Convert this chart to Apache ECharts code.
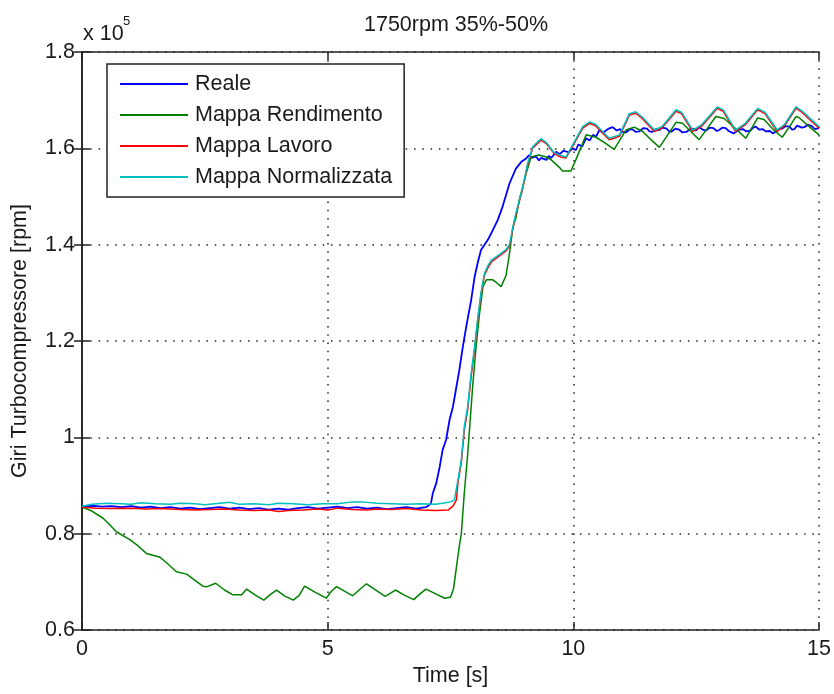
<!DOCTYPE html>
<html>
<head>
<meta charset="utf-8">
<script src="https://cdn.jsdelivr.net/npm/echarts@6/dist/echarts.min.js"></script>
<style>
  html, body { margin: 0; padding: 0; background: #fff; }
  #chart { width: 834px; height: 694px; }
</style>
</head>
<body>
<div id="chart"></div>
<script>
// Turbocharger speed (x 10^5 rpm) against time, 1750 rpm load step 35%-50%
const seriesNames = ['Reale', 'Mappa Rendimento', 'Mappa Lavoro', 'Mappa Normalizzata'];
const seriesColors = ['#0000ff', '#008000', '#ff0000', '#00bfbf'];

const xTicks = [0, 5, 10, 15];
const yTickLabels = ['0.6', '0.8', '1', '1.2', '1.4', '1.6', '1.8'];

// [time s, speed x 10^5 rpm]
const reale = [
  [0,0.857],[0.2,0.858],[0.4,0.856],[0.6,0.857],[0.8,0.855],[1.0,0.857],[1.2,0.854],[1.4,0.856],
  [1.6,0.853],[1.8,0.855],[2.0,0.852],[2.2,0.854],[2.4,0.851],[2.6,0.853],[2.8,0.855],[3.0,0.852],
  [3.2,0.854],[3.4,0.851],[3.6,0.853],[3.8,0.850],[4.0,0.852],[4.2,0.850],[4.4,0.853],[4.6,0.855],
  [4.8,0.852],[5.0,0.854],[5.2,0.856],[5.4,0.853],[5.6,0.855],[5.8,0.852],[6.0,0.854],[6.2,0.851],
  [6.4,0.853],[6.6,0.855],[6.8,0.852],[7.0,0.855],[7.1,0.862],[7.14,0.884],[7.21,0.905],[7.28,0.939],
  [7.34,0.974],[7.41,0.995],[7.48,1.036],[7.55,1.064],[7.62,1.105],[7.68,1.14],[7.75,1.188],[7.82,1.23],
  [7.92,1.285],[7.99,1.333],[8.05,1.361],[8.12,1.389],[8.26,1.41],[8.36,1.43],[8.46,1.451],[8.56,1.479],
  [8.70,1.527],[8.83,1.558],[8.94,1.572],[9.04,1.579],[9.10,1.586],[9.14,1.580],[9.24,1.583],[9.30,1.575],
  [9.34,1.580],[9.45,1.576],[9.50,1.584],[9.55,1.580],[9.65,1.593],[9.72,1.588],[9.80,1.595],[9.90,1.592],
  [9.99,1.600],[10.05,1.596],[10.10,1.608],[10.18,1.604],[10.26,1.621],[10.33,1.616],[10.40,1.628],
  [10.46,1.624],[10.53,1.638],[10.60,1.632],[10.65,1.636],[10.72,1.641],[10.80,1.644],[10.88,1.637],
  [10.95,1.640],[11.0,1.634],[11.07,1.633],[11.14,1.639],[11.2,1.640],[11.27,1.634],[11.34,1.635],
  [11.42,1.642],[11.5,1.641],[11.55,1.635],[11.6,1.634],[11.68,1.640],[11.75,1.638],[11.82,1.643],
  [11.9,1.641],[11.95,1.635],[12.0,1.635],[12.08,1.641],[12.15,1.639],[12.22,1.633],[12.3,1.634],
  [12.38,1.640],[12.45,1.641],[12.5,1.637],[12.56,1.644],[12.63,1.639],[12.7,1.637],[12.78,1.643],
  [12.85,1.642],[12.92,1.636],[12.97,1.638],[13.03,1.643],[13.1,1.642],[13.16,1.636],[13.2,1.636],
  [13.26,1.631],[13.3,1.633],[13.38,1.639],[13.45,1.640],[13.52,1.635],[13.6,1.637],[13.66,1.643],
  [13.71,1.645],[13.78,1.639],[13.85,1.640],[13.92,1.635],[14.0,1.636],[14.06,1.631],[14.12,1.635],
  [14.19,1.641],[14.25,1.641],[14.32,1.646],[14.4,1.645],[14.45,1.639],[14.5,1.640],[14.55,1.647],
  [14.59,1.648],[14.65,1.643],[14.7,1.644],[14.78,1.649],[14.85,1.646],[14.92,1.640],[15,1.642]
];

const rendimento = [
  [0,0.855],[0.2,0.847],[0.43,0.832],[0.55,0.820],[0.7,0.804],[0.98,0.787],[1.15,0.774],[1.31,0.759],
  [1.59,0.751],[1.75,0.737],[1.92,0.721],[2.13,0.716],[2.3,0.703],[2.46,0.691],[2.55,0.690],[2.72,0.697],
  [2.9,0.683],[3.07,0.673],[3.25,0.673],[3.35,0.685],[3.52,0.673],[3.70,0.662],[3.85,0.675],[3.96,0.683],
  [4.12,0.671],[4.30,0.662],[4.42,0.672],[4.53,0.691],[4.75,0.678],[4.97,0.666],[5.07,0.680],[5.18,0.690],
  [5.35,0.680],[5.51,0.671],[5.65,0.684],[5.79,0.696],[5.98,0.683],[6.17,0.670],[6.38,0.683],[6.55,0.673],
  [6.75,0.663],[6.88,0.675],[7.0,0.685],[7.2,0.675],[7.38,0.666],[7.50,0.668],[7.56,0.685],[7.62,0.730],
  [7.68,0.775],[7.72,0.800],[7.78,0.884],[7.85,0.966],[7.89,1.021],[7.95,1.105],[8.02,1.188],[8.09,1.257],
  [8.16,1.313],[8.23,1.327],[8.36,1.327],[8.45,1.320],[8.53,1.313],[8.63,1.336],[8.70,1.382],[8.77,1.437],
  [8.83,1.455],[8.90,1.493],[9.04,1.548],[9.14,1.582],[9.30,1.586],[9.45,1.582],[9.55,1.576],[9.72,1.560],
  [9.78,1.553],[9.95,1.553],[10.05,1.576],[10.26,1.628],[10.46,1.623],[10.65,1.611],[10.83,1.598],
  [11.07,1.638],[11.24,1.644],[11.41,1.635],[11.58,1.618],[11.75,1.602],[11.92,1.628],[12.09,1.654],
  [12.22,1.652],[12.40,1.634],[12.56,1.618],[12.73,1.642],[12.90,1.666],[13.07,1.662],[13.30,1.641],
  [13.51,1.621],[13.63,1.642],[13.75,1.663],[13.88,1.660],[14.05,1.641],[14.25,1.623],[14.40,1.645],
  [14.53,1.666],[14.59,1.664],[14.80,1.645],[15,1.628]
];

const lavoro = [
  [0,0.855],[0.3,0.853],[0.6,0.852],[1.0,0.853],[1.3,0.851],[1.6,0.852],[2.0,0.850],[2.3,0.849],
  [2.6,0.850],[2.9,0.851],[3.2,0.849],[3.5,0.848],[3.8,0.849],[4.0,0.846],[4.2,0.848],[4.5,0.849],
  [4.8,0.851],[5.0,0.849],[5.2,0.853],[5.5,0.850],[5.8,0.849],[6.0,0.851],[6.3,0.850],[6.6,0.852],
  [6.9,0.849],[7.2,0.848],[7.45,0.849],[7.55,0.857],[7.62,0.870],[7.65,0.905],[7.72,0.948],[7.78,1.015],
  [7.85,1.058],[7.92,1.127],[7.99,1.183],[8.05,1.240],[8.12,1.296],[8.19,1.336],[8.26,1.352],[8.33,1.364],
  [8.50,1.377],[8.63,1.387],[8.70,1.397],[8.77,1.434],[8.83,1.462],[8.97,1.517],[9.07,1.566],[9.17,1.600],
  [9.34,1.617],[9.45,1.610],[9.60,1.590],[9.72,1.583],[9.85,1.580],[10.0,1.607],[10.19,1.642],[10.33,1.652],
  [10.45,1.647],[10.73,1.618],[10.94,1.625],[11.14,1.669],[11.27,1.673],[11.40,1.662],[11.65,1.635],
  [11.80,1.642],[12.09,1.677],[12.20,1.672],[12.43,1.635],[12.60,1.645],[12.93,1.683],[13.05,1.677],
  [13.30,1.635],[13.50,1.649],[13.75,1.680],[13.90,1.672],[14.15,1.635],[14.30,1.647],[14.53,1.683],
  [14.65,1.675],[15,1.642]
];

const normalizzata = [
  [0,0.857],[0.2,0.861],[0.5,0.863],[0.8,0.862],[1.0,0.861],[1.2,0.864],[1.5,0.862],[1.8,0.861],
  [2.0,0.863],[2.3,0.862],[2.5,0.860],[2.8,0.863],[3.0,0.865],[3.2,0.861],[3.5,0.862],[3.8,0.860],
  [4.0,0.863],[4.3,0.862],[4.6,0.860],[4.9,0.862],[5.2,0.862],[5.5,0.866],[5.7,0.866],[6.0,0.863],
  [6.3,0.862],[6.6,0.861],[6.9,0.862],[7.2,0.861],[7.4,0.864],[7.5,0.866],[7.58,0.870],[7.65,0.911],
  [7.72,0.953],[7.78,1.022],[7.85,1.064],[7.92,1.133],[7.99,1.188],[8.05,1.244],[8.12,1.300],[8.19,1.340],
  [8.26,1.356],[8.33,1.368],[8.50,1.380],[8.63,1.390],[8.70,1.400],[8.77,1.437],[8.83,1.465],[8.97,1.520],
  [9.07,1.569],[9.17,1.603],[9.34,1.620],[9.45,1.612],[9.60,1.592],[9.72,1.586],[9.85,1.582],[10.0,1.610],
  [10.19,1.645],[10.33,1.655],[10.45,1.650],[10.73,1.621],[10.94,1.628],[11.14,1.672],[11.27,1.676],
  [11.40,1.665],[11.65,1.638],[11.80,1.645],[12.09,1.680],[12.20,1.675],[12.43,1.638],[12.60,1.648],
  [12.93,1.686],[13.05,1.680],[13.30,1.638],[13.50,1.652],[13.75,1.683],[13.90,1.675],[14.15,1.638],
  [14.30,1.650],[14.53,1.686],[14.65,1.678],[15,1.645]
];

const seriesData = [reale, rendimento, lavoro, normalizzata];

const FONT = '"Liberation Sans", Arial, sans-serif';
const FS = 21.5;
const TXT = '#1a1a1a';

const gridLine = { show: true, lineStyle: { color: '#222', width: 1.5, type: [1.5, 6.8] } };
const frameLine = { show: true, lineStyle: { color: '#222', width: 1.5 } };
const tickIn = { show: true, inside: true, length: 8, lineStyle: { color: '#222', width: 1.5 } };

const chart = echarts.init(document.getElementById('chart'), null, { renderer: 'canvas' });

chart.setOption({
  animation: false,
  backgroundColor: '#ffffff',
  title: {
    text: '1750rpm 35%-50%',
    left: 451, top: 9, textAlign: 'center',
    textStyle: { fontFamily: FONT, fontSize: FS, fontWeight: 'normal', color: TXT }
  },
  grid: { left: 82, right: 14, top: 52, bottom: 64 },
  legend: {
    orient: 'vertical',
    left: 107, top: 64,
    padding: [9, 12, 9, 13],
    itemGap: 9,
    itemWidth: 68, itemHeight: 2,
    icon: 'rect',
    backgroundColor: '#ffffff',
    borderColor: '#222', borderWidth: 1.5,
    textStyle: { fontFamily: FONT, fontSize: FS, color: TXT, lineHeight: 22, padding: [0, 0, 0, 2] },
    data: seriesNames
  },
  xAxis: [
    {
      type: 'value', min: xTicks[0], max: xTicks[xTicks.length - 1], interval: 5,
      name: 'Time [s]', nameLocation: 'middle', nameGap: 35,
      nameTextStyle: { fontFamily: FONT, fontSize: FS, color: TXT },
      axisLine: frameLine, axisTick: tickIn, splitLine: gridLine,
      axisLabel: { fontFamily: FONT, fontSize: FS, color: TXT, margin: 8 }
    },
    {
      type: 'value', position: 'top', min: xTicks[0], max: xTicks[xTicks.length - 1], interval: 5,
      axisLine: frameLine, axisTick: tickIn, splitLine: { show: false }, axisLabel: { show: false }
    }
  ],
  yAxis: [
    {
      type: 'value', min: 0.6, max: 1.8, interval: 0.2,
      name: 'Giri Turbocompressore [rpm]', nameLocation: 'middle', nameGap: 51,
      nameTextStyle: { fontFamily: FONT, fontSize: FS, color: TXT },
      axisLine: frameLine, axisTick: tickIn, splitLine: gridLine,
      axisLabel: {
        fontFamily: FONT, fontSize: FS, color: TXT, margin: 7,
        formatter: v => yTickLabels[Math.round((v - 0.6) / 0.2)]
      }
    },
    {
      type: 'value', position: 'right', min: 0.6, max: 1.8, interval: 0.2,
      axisLine: frameLine, axisTick: tickIn, splitLine: { show: false }, axisLabel: { show: false }
    }
  ],
  graphic: [
    { type: 'text', left: 83, top: 23, style: { text: 'x 10', fontFamily: FONT, fontSize: FS, fill: TXT } },
    { type: 'text', left: 123, top: 15, style: { text: '5', fontFamily: FONT, fontSize: 13, fill: TXT } }
  ],
  series: seriesNames.map((name, i) => ({
    name, type: 'line', data: seriesData[i],
    showSymbol: false, symbol: 'none',
    lineStyle: { color: seriesColors[i], width: i === 0 ? 1.8 : 1.5 },
    itemStyle: { color: seriesColors[i] },
    z: 2 + i
  }))
});
</script>
</body>
</html>
